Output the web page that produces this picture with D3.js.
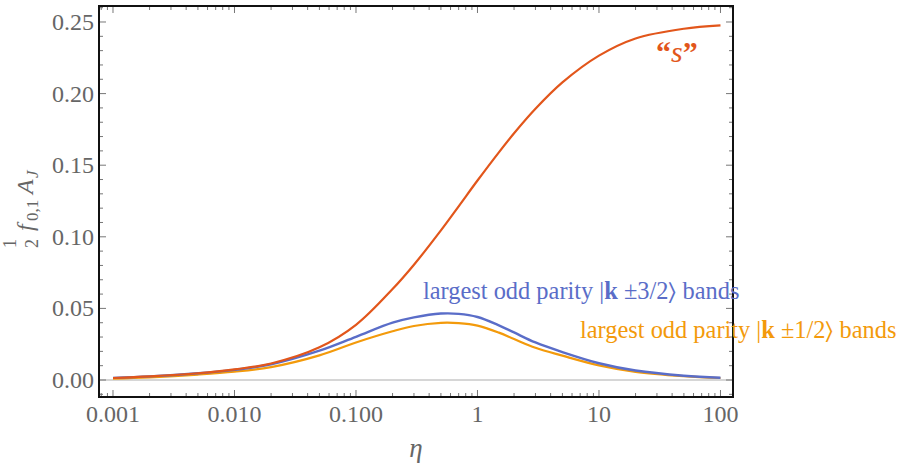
<!DOCTYPE html>
<html><head><meta charset="utf-8">
<script src="https://cdn.jsdelivr.net/npm/d3@7"></script>
<style>body{margin:0;background:#fff}svg{display:block}</style>
</head><body>
<svg id="c" width="913" height="470"></svg>
<script>
const eta = [0.001,0.002,0.005,0.01,0.02,0.05,0.1,0.2,0.3,0.5,0.7,1,1.5,2,3,5,10,20,50,100];
const sVals = [0.0014,0.0025,0.0047,0.0074,0.0115,0.0228,0.0385,0.0635,0.0805,0.1045,0.1213,0.1393,0.1590,0.1723,0.1894,0.2078,0.2265,0.2385,0.2453,0.2476];
const odd32 = [0.0015,0.0025,0.0047,0.0071,0.0110,0.0205,0.0302,0.0400,0.0437,0.0464,0.0462,0.0440,0.0382,0.0332,0.0262,0.0195,0.0117,0.0066,0.0030,0.0016];
const odd12 = [0.0010,0.0019,0.0038,0.0058,0.0090,0.0172,0.0262,0.0340,0.0377,0.0399,0.0397,0.0380,0.0331,0.0286,0.0225,0.0170,0.0102,0.0057,0.0027,0.0014];
const xTicks = [0.001,0.01,0.1,1,10,100];
const xTickLabels = ["0.001","0.010","0.100","1","10","100"];
const yTicks = [0,0.05,0.10,0.15,0.20,0.25];
const yTickLabels = ["0.00","0.05","0.10","0.15","0.20","0.25"];

const L=99, R=733, T=6, B=397;
const x = d3.scaleLog().domain([0.000767,126.8]).range([L,R]);
const y = d3.scaleLinear().domain([-0.01187,0.26117]).range([B,T]);
const svg = d3.select("#c");
const font = "Liberation Serif, Tinos, Times New Roman, DejaVu Serif, serif";
const tickCol = "#777", labCol = "#666";

svg.append("line").attr("x1",L).attr("x2",R).attr("y1",y(0)).attr("y2",y(0))
  .attr("stroke","#c8c8c8").attr("stroke-width",1.5);

const xMinor=[];
for (let e=-4;e<=2;e++) for (let m=1;m<=9;m++){const v=m*Math.pow(10,e); if(v>=x.domain()[0]&&v<=x.domain()[1]) xMinor.push(v);}
const g = svg.append("g").attr("stroke",tickCol).attr("stroke-width",1);
xMinor.forEach(v=>{
  const major = xTicks.some(t=>Math.abs(t-v)/t<1e-6);
  const len = major?7:4;
  g.append("line").attr("x1",x(v)).attr("x2",x(v)).attr("y1",B).attr("y2",B-len);
  g.append("line").attr("x1",x(v)).attr("x2",x(v)).attr("y1",T).attr("y2",T+len);
});
for (let i=-1;i<=26;i++){
  const v=i/100; const major = i%5===0; const len = major?7:4;
  g.append("line").attr("x1",L).attr("x2",L+len).attr("y1",y(v)).attr("y2",y(v));
  g.append("line").attr("x1",R).attr("x2",R-len).attr("y1",y(v)).attr("y2",y(v));
}

svg.append("g").selectAll("text").data(xTicks).join("text")
  .attr("x",d=>x(d)).attr("y",422).attr("text-anchor","middle")
  .attr("font-family",font).attr("font-size",24).attr("fill",labCol)
  .text((d,i)=>xTickLabels[i]);
svg.append("g").selectAll("text").data(yTicks).join("text")
  .attr("x",94).attr("y",d=>y(d)).attr("dy","0.33em").attr("text-anchor","end")
  .attr("font-family",font).attr("font-size",24).attr("fill",labCol)
  .text((d,i)=>yTickLabels[i]);

const line = (vals)=>d3.line().x((d,i)=>x(eta[i])).y(d=>y(d)).curve(d3.curveCatmullRom.alpha(0.5))(vals);
svg.append("path").attr("d",line(odd12)).attr("fill","none").attr("stroke","#F39A0B").attr("stroke-width",2.2);
svg.append("path").attr("d",line(odd32)).attr("fill","none").attr("stroke","#5A6DC8").attr("stroke-width",2.4);
svg.append("path").attr("d",line(sVals)).attr("fill","none").attr("stroke","#E2561B").attr("stroke-width",2.2);

svg.append("rect").attr("x",L).attr("y",T).attr("width",R-L).attr("height",B-T)
  .attr("fill","none").attr("stroke","#111").attr("stroke-width",2);

const t1 = svg.append("text").attr("x",423).attr("y",299).attr("font-family",font).attr("font-size",24.4).attr("fill","#5A6DC8");
t1.append("tspan").text("largest odd parity |");
t1.append("tspan").attr("font-weight","bold").text("k");
t1.append("tspan").text(" \u00B13/2\u232A bands");
const t2 = svg.append("text").attr("x",580).attr("y",338).attr("font-family",font).attr("font-size",24.4).attr("fill","#F39A0B");
t2.append("tspan").text("largest odd parity |");
t2.append("tspan").attr("font-weight","bold").text("k");
t2.append("tspan").text(" \u00B11/2\u232A bands");
const t3 = svg.append("text").attr("x",656).attr("y",62).attr("font-family",font).attr("font-size",30).attr("fill","#E2561B");
t3.append("tspan").attr("font-weight","bold").text("\u201C");
t3.append("tspan").attr("font-style","italic").text("s");
t3.append("tspan").attr("font-weight","bold").text("\u201D");

svg.append("text").attr("x",416).attr("y",457).attr("text-anchor","middle")
  .attr("font-family",font).attr("font-size",27).attr("font-style","italic").attr("fill",labCol).text("\u03B7");
const yl = svg.append("text").attr("transform","translate(33,250) rotate(-90)")
  .attr("font-family",font).attr("font-size",24).attr("fill",labCol);
yl.append("tspan").attr("font-size",18).attr("x",2).attr("y",-17).text("1");
yl.append("tspan").attr("font-size",18).attr("x",2).attr("y",5).text("2");
yl.append("tspan").attr("x",19).attr("y",0).attr("font-style","italic").text("f");
yl.append("tspan").attr("font-size",17).attr("x",29).attr("y",5).text("0,1");
yl.append("tspan").attr("x",56).attr("y",0).attr("font-style","italic").text("A");
yl.append("tspan").attr("font-size",17).attr("x",72).attr("y",5).attr("font-style","italic").text("J");
</script>
</body></html>
